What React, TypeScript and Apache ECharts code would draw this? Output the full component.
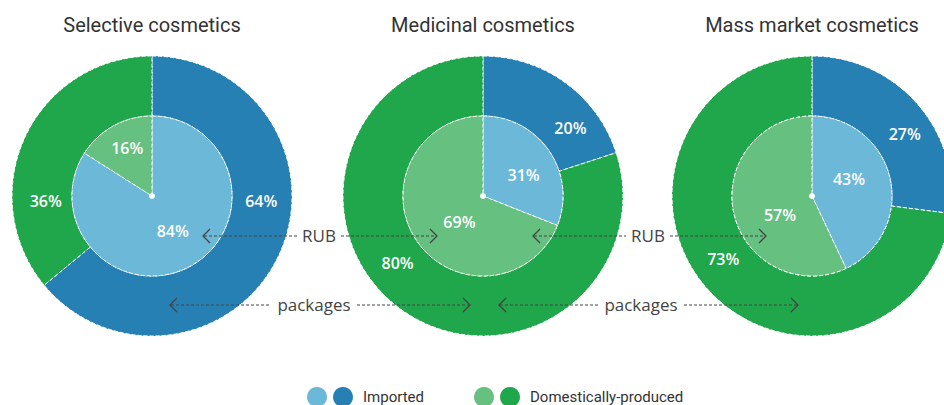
import React, { useEffect, useRef } from "react";
import * as echarts from "echarts";

const categories = ["Selective cosmetics", "Medicinal cosmetics", "Mass market cosmetics"];
const importedRub = [84, 31, 43];
const domesticRub = [16, 69, 57];
const importedPackages = [64, 20, 27];
const domesticPackages = [36, 80, 73];
const legendLabels = ["Imported", "Domestically-produced"];

const COLORS = {
  importedLight: "#6cb8d8",
  importedDark: "#2780b4",
  domesticLight: "#66c080",
  domesticDark: "#20a64b",
};

// layout (label nudges to follow the original's hand placement)
const centersX = [152, 483, 812];
const centerY = 196;
const outerLabelNudge = [
  [[7, -43], [-4, 53]],
  [[21, 23], [-19, -24]],
  [[8, 13], [-4, -12]],
];
const innerLabelNudge = [
  [[0, -3], [-4, -10]],
  [[5, 3], [12, 2]],
  [[-5, -8], [10, 10]],
];

export default function App() {
  const ref = useRef<HTMLDivElement>(null);
  useEffect(() => {
    if (!ref.current) return;
    const chart = echarts.init(ref.current, null, { renderer: "svg" });

    const labelStyle = {
      show: true,
      position: "inside",
      color: "#ffffff",
      fontSize: 16,
      fontWeight: 600,
      fontFamily: "Open Sans",
      formatter: "{c}%",
    };
    const itemStyle = { borderColor: "#ffffff", borderWidth: 1, borderType: "dashed" };

    const series: any[] = [];
    categories.forEach((cat, i) => {
      series.push({
        type: "pie",
        name: cat + " packages",
        center: [centersX[i], centerY],
        radius: [80, 140],
        startAngle: 90,
        clockwise: true,
        silent: true,
        label: labelStyle,
        labelLine: { show: false },
        itemStyle,
        data: [
          {
            name: legendLabels[0],
            value: importedPackages[i],
            itemStyle: { color: COLORS.importedDark },
            label: { offset: outerLabelNudge[i][0] },
          },
          {
            name: legendLabels[1],
            value: domesticPackages[i],
            itemStyle: { color: COLORS.domesticDark },
            label: { offset: outerLabelNudge[i][1] },
          },
        ],
      });
      series.push({
        type: "pie",
        name: cat + " RUB",
        center: [centersX[i], centerY],
        radius: [0, 80],
        startAngle: 90,
        clockwise: true,
        silent: true,
        label: labelStyle,
        labelLine: { show: false },
        itemStyle,
        data: [
          {
            name: legendLabels[0],
            value: importedRub[i],
            itemStyle: { color: COLORS.importedLight },
            label: { offset: innerLabelNudge[i][0] },
          },
          {
            name: legendLabels[1],
            value: domesticRub[i],
            itemStyle: { color: COLORS.domesticLight },
            label: { offset: innerLabelNudge[i][1] },
          },
        ],
      });
    });

    const graphic: any[] = [];
    categories.forEach((cat, i) => {
      graphic.push({
        type: "text",
        x: centersX[i],
        y: 25,
        z: 10,
        style: {
          text: cat,
          textAlign: "center",
          textVerticalAlign: "middle",
          fontSize: 20,
          fontFamily: "Roboto",
          fill: "#333333",
        },
      });
      graphic.push({
        type: "circle",
        z: 10,
        shape: { cx: centersX[i], cy: centerY, r: 3 },
        style: { fill: "#ffffff" },
      });
    });

    const arrowColor = "#444444";
    const annotations = [
      { text: "RUB", y: 236, left: 203, right: 437, tx: 319, half: 22 },
      { text: "RUB", y: 236, left: 533, right: 766, tx: 648, half: 22 },
      { text: "packages", y: 305, left: 170, right: 470, tx: 314, half: 43 },
      { text: "packages", y: 305, left: 499, right: 798, tx: 641, half: 43 },
    ];
    annotations.forEach((a) => {
      const lineStyle = { stroke: arrowColor, lineWidth: 1.2, lineDash: [3, 2], fill: null };
      graphic.push({ type: "line", z: 20, shape: { x1: a.left + 1, y1: a.y, x2: a.tx - a.half, y2: a.y }, style: lineStyle });
      graphic.push({ type: "line", z: 20, shape: { x1: a.tx + a.half, y1: a.y, x2: a.right - 1, y2: a.y }, style: lineStyle });
      const chev = { stroke: arrowColor, lineWidth: 1.3, fill: null };
      graphic.push({
        type: "polyline",
        z: 20,
        shape: { points: [[a.left + 7, a.y - 7], [a.left, a.y], [a.left + 7, a.y + 7]] },
        style: chev,
      });
      graphic.push({
        type: "polyline",
        z: 20,
        shape: { points: [[a.right - 7, a.y - 7], [a.right, a.y], [a.right - 7, a.y + 7]] },
        style: chev,
      });
      graphic.push({
        type: "text",
        z: 20,
        x: a.tx,
        y: a.y - 1,
        style: {
          text: a.text,
          textAlign: "center",
          textVerticalAlign: "middle",
          fontSize: 17,
          fontFamily: "Open Sans",
          fill: "#444444",
        },
      });
    });

    const legendY = 397;
    const legendItems = [
      { c1: COLORS.importedLight, c2: COLORS.importedDark, x: 317, tx: 363, text: legendLabels[0] },
      { c1: COLORS.domesticLight, c2: COLORS.domesticDark, x: 484, tx: 530, text: legendLabels[1] },
    ];
    legendItems.forEach((l) => {
      graphic.push({ type: "circle", shape: { cx: l.x, cy: legendY, r: 10 }, style: { fill: l.c1 } });
      graphic.push({ type: "circle", shape: { cx: l.x + 26, cy: legendY, r: 10 }, style: { fill: l.c2 } });
      graphic.push({
        type: "text",
        x: l.tx,
        y: legendY,
        style: {
          text: l.text,
          textVerticalAlign: "middle",
          fontSize: 15,
          fontFamily: "Roboto",
          fill: "#333333",
        },
      });
    });

    chart.setOption({
      animation: false,
      backgroundColor: "#ffffff",
      series,
      graphic,
    });
    return () => chart.dispose();
  }, []);

  return (
    <div
      ref={ref}
      style={{ position: "fixed", left: 0, top: 0, width: 944, height: 405 }}
    />
  );
}
